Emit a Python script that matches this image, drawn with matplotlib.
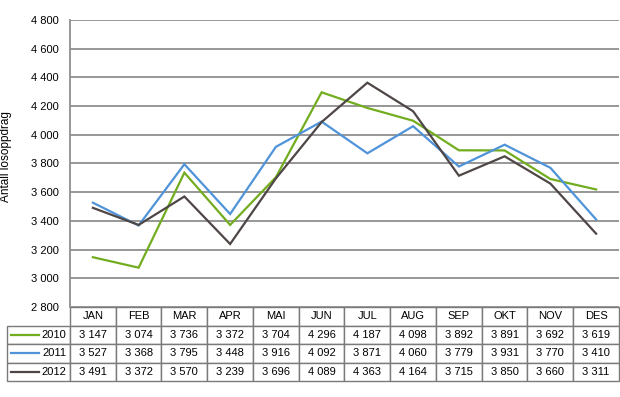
import matplotlib.pyplot as plt
import numpy as np

plt.rcParams['font.family'] = ['Liberation Sans', 'DejaVu Sans']

months = ['JAN', 'FEB', 'MAR', 'APR', 'MAI', 'JUN', 'JUL', 'AUG', 'SEP', 'OKT', 'NOV', 'DES']
years = ['2010', '2011', '2012']
v2010 = [3147, 3074, 3736, 3372, 3704, 4296, 4187, 4098, 3892, 3891, 3692, 3619]
v2011 = [3527, 3368, 3795, 3448, 3916, 4092, 3871, 4060, 3779, 3931, 3770, 3410]
v2012 = [3491, 3372, 3570, 3239, 3696, 4089, 4363, 4164, 3715, 3850, 3660, 3311]
colors = ['#72ad1f', '#4f93d8', '#4f4646']

def fmt(v):
    return f'{v:,}'.replace(',', ' ')

fig = plt.figure(figsize=(6.2, 3.97), dpi=100)
ax = fig.add_axes([70 / 620, 1 - 307 / 397, 549 / 620, 287 / 397])

n = len(months)
x = np.arange(n) + 0.5
for vals, c in zip([v2010, v2011, v2012], colors):
    ax.plot(x, vals, color=c, lw=1.6, solid_joinstyle='miter')

ax.set_xlim(0, n)
ax.set_ylim(2800, 4800)
ax.set_yticks(np.arange(2800, 4801, 200))
ax.set_yticklabels([fmt(v) for v in np.arange(2800, 4801, 200)], fontsize=8)
ax.set_xticks([])
ax.tick_params(axis='y', length=0, pad=8)
ax.grid(axis='y', color='#8f8f8f', lw=1.3)
ax.set_axisbelow(True)
for s in ['top', 'right', 'bottom']:
    ax.spines[s].set_visible(False)
ax.spines['left'].set_color('#8f8f8f')
ax.spines['left'].set_linewidth(1.3)
ax.set_ylabel('Antall losoppdrag', fontsize=8.5)
ax.yaxis.set_label_coords(-0.106, 0.523)

# data table
tab_h = 74 / 287
lab_w = 63 / 549
cells = [[fmt(v) for v in vals] for vals in [v2010, v2011, v2012]]
tbl = ax.table(cellText=cells, colLabels=months,
               colWidths=[1 / n] * n, cellLoc='center',
               bbox=[0, -tab_h, 1, tab_h])
ch = tbl[0, 0].get_height()
for i, y in enumerate(years):
    tbl.add_cell(i + 1, -1, width=lab_w, height=ch, text=y, loc='right')
tbl.auto_set_font_size(False)
tbl.set_fontsize(8)
for (r, c), cell in tbl.get_celld().items():
    cell.set_edgecolor('#7a7a7a')
    cell.set_linewidth(1.0)
    if c == -1:
        cell.PAD = 0.06

# legend swatches in the row label cells
rh = tab_h / 4
for i, c in enumerate(colors):
    yc = -rh * (i + 1.5)
    ax.plot([-lab_w + 0.008, -lab_w + 0.058], [yc, yc], color=c, lw=1.6,
            transform=ax.transAxes, clip_on=False)

fig.savefig('out.png', dpi=100)
